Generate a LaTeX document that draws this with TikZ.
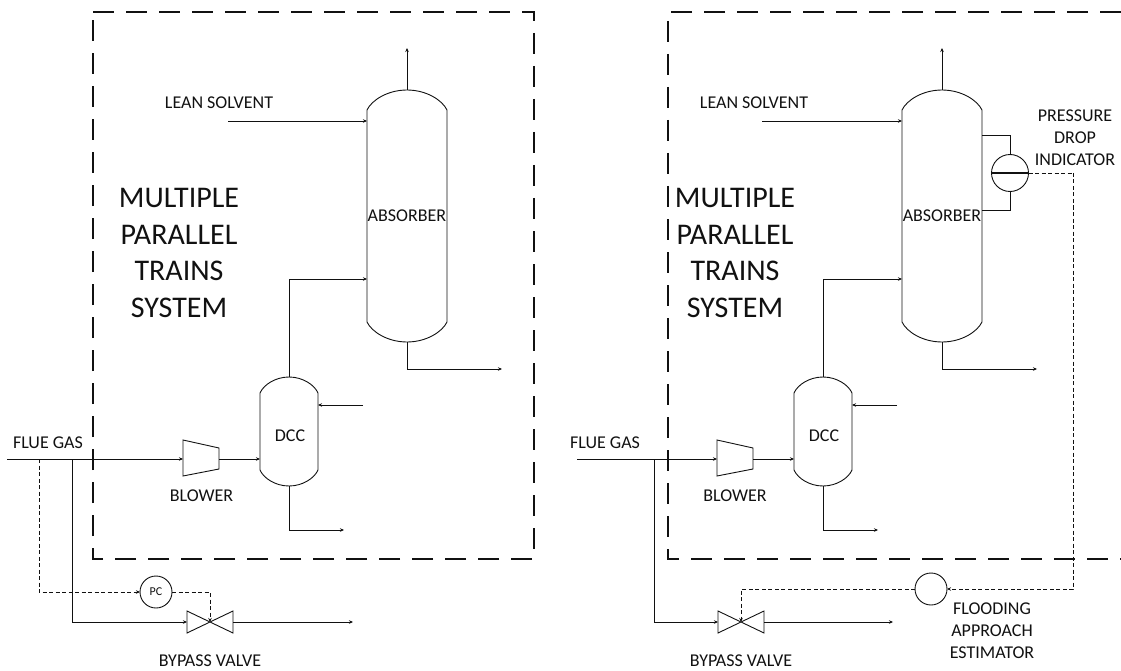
\documentclass[tikz,border=0pt]{standalone}
\usepackage{fontspec}
\setmainfont{Carlito}
\usetikzlibrary{arrows.meta, positioning, calc}
\definecolor{inkcolor}{HTML}{111111}

\newcommand{\vesselshape}[2]{
  \draw[inkcolor]
    ($(#1.north west)+(0,#2)$)
    .. controls ($(#1.north west)!0.06!(#1.north east)+(0,0.5*#2)$) and ($(#1.north west)!0.26!(#1.north east)$) .. (#1.north)
    .. controls ($(#1.north east)!0.26!(#1.north west)$) and ($(#1.north east)!0.06!(#1.north west)+(0,0.5*#2)$) ..
    ($(#1.north east)+(0,#2)$)
    -- ($(#1.south east)+(0,-#2)$)
    .. controls ($(#1.south east)!0.06!(#1.south west)+(0,-0.5*#2)$) and ($(#1.south east)!0.26!(#1.south west)$) .. (#1.south)
    .. controls ($(#1.south west)!0.26!(#1.south east)$) and ($(#1.south west)!0.06!(#1.south east)+(0,-0.5*#2)$) ..
    ($(#1.south west)+(0,-#2)$) -- cycle;
}
\newcommand{\blowershape}[1]{
  \draw[inkcolor] (#1.north west) -- ($(#1.north east)+(0,8)$)
    -- ($(#1.south east)+(0,-7)$) -- (#1.south west) -- cycle;
}
\newcommand{\valveshape}[1]{
  \draw[inkcolor] (#1.north west) -- (#1.south east) -- (#1.north east)
    -- (#1.south west) -- cycle;
}

\begin{document}
\begin{tikzpicture}[
  x=1pt, y=-1pt,
  >=Stealth,
  every node/.style={font=\fontsize{18}{22}\selectfont, text=inkcolor, inner sep=0pt, outer sep=0pt},
  align=center,
  line width=0.9pt,
]

\tikzset{
  vessel/.style={rectangle, minimum width=80pt, minimum height=252pt},
  smallvessel/.style={rectangle, minimum width=58pt, minimum height=109pt},
  blowerbox/.style={rectangle, minimum width=36pt, minimum height=36pt},
  valvebox/.style={rectangle, minimum width=46pt, minimum height=22pt},
  instrument/.style={circle, draw=inkcolor, fill=white},
  bigtext/.style={font=\fontsize{30}{36.4}\selectfont},
  flowline/.style={-{Stealth[length=4pt, width=3.5pt]}, inkcolor},
  plainline/.style={inkcolor},
  signalline/.style={-{Stealth[length=4pt, width=3.5pt]}, inkcolor, dash pattern=on 4pt off 2.5pt},
  signalplain/.style={inkcolor, dash pattern=on 4pt off 2.5pt},
  trainline/.style={inkcolor, line width=1.1pt, dash pattern=on 21pt off 12pt},
}

\useasboundingbox (0,0) rectangle (1121,671);

% ---------------------------------------------------------------
% LEFT TRAIN
% ---------------------------------------------------------------
\draw[trainline] (93,12) -- (534,12) -- (534,559) -- (93,559) -- cycle;

\node[vessel]      (absorber) at (407,216) {ABSORBER};
\node[smallvessel] (dcc)      at (289,431.5) {};
\node              (dcctext)  at (290,436) {DCC};
\node[blowerbox]   (blower)   at (201,458) {};
\node[valvebox]    (valve)    at (210,622) {};
\node[instrument, minimum size=32pt, font=\fontsize{12}{14}\selectfont] (pc) at (156,592) {PC};

\node (leantext)   at (219,102.5) {LEAN SOLVENT};
\node (fluetext)   at (48,442.5)  {FLUE GAS};
\node (blowertext) at (201.5,495.5) {BLOWER};
\node (bypasstext) at (210,660.5) {BYPASS VALVE};
\node[bigtext] (traintext) at (179,253) {MULTIPLE\\PARALLEL\\TRAINS\\SYSTEM};

\coordinate (flueend)  at (7,459);
\coordinate (fluetee)  at (72,459);
\coordinate (sigtee)   at (39,459);
\coordinate (leanend)  at (228,121);
\coordinate (topend)   at (407,48);
\coordinate (botend)   at (502,369);
\coordinate (feedin)   at (367,279);
\coordinate (washend)  at (363,405);
\coordinate (dccend)   at (344,530);
\coordinate (bypassend) at (353,622);

\vesselshape{absorber}{20}
\vesselshape{dcc}{16}
\blowershape{blower}
\valveshape{valve}

% Main flow
\draw[plainline] (flueend) -- (fluetee);
\draw[flowline] (fluetee) -- (flueend -| blower.west);
\draw[flowline] (blower.east |- flueend) -- (flueend -| dcc.west);
\draw[flowline] (dcc.north) |- (feedin);
\draw[flowline] (washend) -- (washend -| dcc.east);
\draw[flowline] (dcc.south) |- (dccend);
\draw[flowline] (leanend) -- (leanend -| absorber.west);
\draw[flowline] (absorber.north) -- (topend);
\draw[flowline] (absorber.south) |- (botend);

% Bypass
\draw[flowline] (fluetee) |- (valve.west);
\draw[flowline] (valve.east) -- (bypassend);

% Control signal
\draw[signalline] (sigtee) |- (pc.west);
\draw[signalline] (pc.east) -| (valve.center);

% ---------------------------------------------------------------
% RIGHT TRAIN
% ---------------------------------------------------------------
\coordinate (rboxtop) at (1121,12);
\coordinate (rboxbot) at (1121,559);
\draw[trainline] (rboxtop) -- (668,12) -- (668,559) -- (rboxbot);

\node[vessel]      (rabsorber) at (942,216) {ABSORBER};
\node[smallvessel] (rdcc)      at (823,431.5) {};
\node              (rdcctext)  at (824,436) {DCC};
\node[blowerbox]   (rblower)   at (735,458) {};
\node[valvebox]    (rvalve)    at (741,622) {};
\node[instrument, minimum size=37pt] (pdi) at (1010,173) {};
\node[instrument, minimum size=32pt] (fae) at (931,589) {};

\node (rleantext)   at (754,102.5) {LEAN SOLVENT};
\node (rfluetext)   at (605,442.5) {FLUE GAS};
\node (rblowertext) at (735,495.5) {BLOWER};
\node (rbypasstext) at (741,661) {BYPASS VALVE};
\node (pditext)     at (1075,137.5) {PRESSURE\\DROP\\INDICATOR};
\node (faetext)     at (992,631)  {FLOODING\\APPROACH\\ESTIMATOR};
\node[bigtext] (rtraintext) at (735,253) {MULTIPLE\\PARALLEL\\TRAINS\\SYSTEM};

\coordinate (rflueend)  at (577,459);
\coordinate (rfluetee)  at (654,459);
\coordinate (rleanend)  at (762,121);
\coordinate (rtopend)   at (942,48);
\coordinate (rbotend)   at (1037,369);
\coordinate (rfeedin)   at (902,279);
\coordinate (rwashend)  at (897,405);
\coordinate (rdccend)   at (878,530);
\coordinate (rbypassend) at (893,622);
\coordinate (pditop)    at (982,135);
\coordinate (pdibot)    at (982,210);
\coordinate (sigcorner) at (1073,173);

\vesselshape{rabsorber}{20}
\vesselshape{rdcc}{16}
\blowershape{rblower}
\valveshape{rvalve}

% Main flow
\draw[plainline] (rflueend) -- (rfluetee);
\draw[flowline] (rfluetee) -- (rflueend -| rblower.west);
\draw[flowline] (rblower.east |- rflueend) -- (rflueend -| rdcc.west);
\draw[flowline] (rdcc.north) |- (rfeedin);
\draw[flowline] (rwashend) -- (rwashend -| rdcc.east);
\draw[flowline] (rdcc.south) |- (rdccend);
\draw[flowline] (rleanend) -- (rleanend -| rabsorber.west);
\draw[flowline] (rabsorber.north) -- (rtopend);
\draw[flowline] (rabsorber.south) |- (rbotend);

% Bypass
\draw[flowline] (rfluetee) |- (rvalve.west);
\draw[flowline] (rvalve.east) -- (rbypassend);

% Pressure drop taps
\draw[plainline] (pditop) -| (pdi.north);
\draw[plainline] (pdibot) -| (pdi.south);
\draw[line width=1.2pt, inkcolor] (pdi.west) -- (pdi.east);

% Flooding signal
\draw[signalplain] (pdi.east) -- (sigcorner);
\draw[signalline] (sigcorner) |- (fae.east);
\draw[signalline] (fae.west) -| (rvalve.center);

\end{tikzpicture}
\end{document}
